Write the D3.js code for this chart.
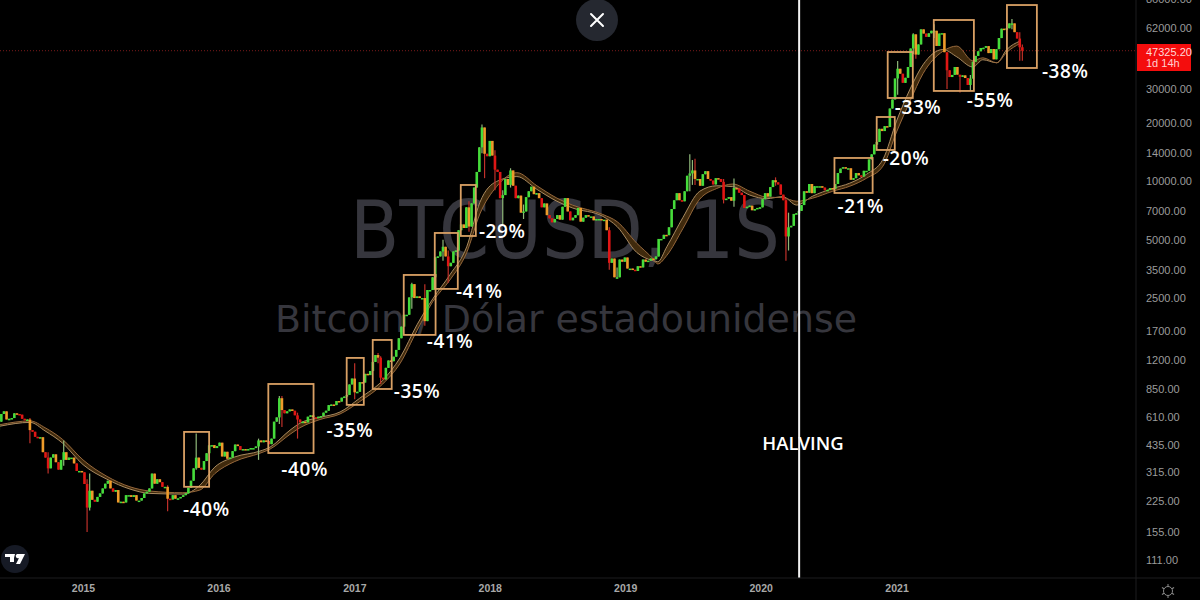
<!DOCTYPE html>
<html><head><meta charset="utf-8">
<style>html,body{margin:0;padding:0;background:#000;overflow:hidden}svg{display:block}</style>
<script src="https://cdn.jsdelivr.net/npm/d3@7"></script></head><body>
<svg id="c" width="1200" height="600"></svg>
<script>
const firstWeek = "2014-05-19";
const firstOpen = 520;
const closes2014 = [575,630,650,590,595,600,635,630,625,595,585,590,520,510,480,475,478,400,375,330,375,390,355,325,365,400,365,375,375,350,320,320,315];
const closes2015 = [274,207,253,227,222,235,245,260,275,285,260,250,255,220,222,220,240,240,235,240,225,225,232,245,250,260,310,275,290,280,265,265,230,228,240,230,231,235,240,245,262,285,330,375,332,325,360,395,434,435,420,430];
const closes2016 = [448,380,402,370,375,405,438,430,410,415,412,415,420,420,428,460,450,460,457,440,470,575,605,760,660,635,650,665,655,620,590,570,575,570,610,620,605,600,610,615,640,655,700,705,700,735,730,765,775,790,895,960];
const closes2017 = [815,820,920,915,1015,1000,1050,1170,1270,1230,970,950,1090,1190,1180,1245,1350,1550,1780,2050,2050,2520,2950,2500,2550,2500,2500,1900,2750,2750,3200,4050,4100,4350,4600,4100,3650,3800,4350,4400,5600,6000,5750,7350,5850,7700,9300,11200,15000,19000,13900,13500];
const closes2018 = [16200,13600,11500,11200,8200,8500,10300,9600,11400,9500,8200,8450,6900,7000,8300,8900,9400,8600,8700,8200,7350,7700,6700,6450,6150,6400,6700,6350,7400,8200,7000,6300,6500,6700,7300,6200,6500,6700,6600,6600,6300,6400,6400,6350,6350,5600,3800,4000,3200,3200,3950,3850,4050];
const closes2019 = [3550,3550,3500,3450,3650,3600,3950,3850,3900,4000,3970,4100,5050,5050,5300,5280,5800,7200,8000,8700,8000,7900,8900,10700,11000,11400,10300,10300,9500,10900,11300,10300,10100,9650,10400,10300,9950,8050,8150,8300,7950,9250,9200,8750,8500,7300,7400,7500,7100,7200,7300,7350];
const closes2020 = [8100,8700,8350,9350,10150,9900,9650,8550,8000,5200,5800,5900,6800,6850,7050,7550,8900,8750,9700,8700,9450,9450,9450,9300,9000,9050,9250,9150,9700,11050,11650,11850,11650,11700,10200,10400,11050,10750,10600,11350,11350,13000,13800,15500,16000,18700,18200,19300,19100,23800,26500,34000];
const closes2021 = [38200,36000,32300,34300,39000,48600,57500,45200,51000,61000,58000,55800,58200,60000,60000,50100,58000,58300,46500,37500,34600,35500,39000,35600,34700,35300,34200,31500,34000,41500,44500,47000,48900,49000,50000,46000,48300,42700,48200,55000,61500,60900,61800,65500,65500,59000,54700,49300,47325];

const wickDates = ["2014-08-11","2014-09-29","2014-11-10","2015-01-12","2015-01-19","2015-08-17","2015-11-02","2016-04-18","2016-06-13","2016-06-20","2016-08-01","2017-01-02","2017-03-06","2017-03-13","2017-06-05","2017-07-10","2017-08-28","2017-09-11","2017-11-06","2017-12-11","2017-12-18","2018-01-15","2018-02-05","2018-02-26","2018-04-02","2018-11-19","2018-12-10","2019-06-24","2019-07-01","2019-07-08","2019-09-23","2019-10-21","2020-02-10","2020-03-09","2020-03-16","2021-01-04","2021-02-15","2021-02-22","2021-04-12","2021-05-17","2021-06-21","2021-07-19","2021-11-08","2021-11-29","2021-12-06"];
const wickHighs = [600,400,460,290,310,270,500,470,780,780,640,1150,1300,1250,3000,2950,5000,4400,7900,19700,19000,14500,9000,11700,7600,5800,3600,13800,12900,13100,10300,10350,10500,8200,6900,41900,58300,57500,64800,46000,35500,35500,69000,59000,51000];
const wickLows = [445,310,340,155,200,198,325,365,560,540,470,750,1150,900,2200,1800,3900,3000,5500,14000,10400,9000,6000,9300,6400,3500,3150,8900,9600,9600,7700,7400,9500,3900,4400,28000,45500,43000,55000,30000,28800,29300,61000,42000,42000];

const maTimes = [2014.388,2014.61,2014.72,2014.85,2015.0,2015.177,2015.347,2015.494,2015.737,2015.863,2015.973,2016.12,2016.305,2016.38,2016.527,2016.6,2016.748,2016.895,2017.04,2017.21,2017.338,2017.463,2017.58,2017.706,2017.83,2017.927,2018.05,2018.2,2018.348,2018.496,2018.61,2018.835,2018.94,2019.085,2019.204,2019.24,2019.307,2019.425,2019.55,2019.676,2019.794,2019.92,2020.044,2020.162,2020.265,2020.383,2020.53,2020.656,2020.78,2020.9,2021.0,2021.1,2021.195,2021.342,2021.445,2021.563,2021.637,2021.74,2021.814,2021.91];
const maFast = [545,570,515,445,345,290,258,245,243,270,335,378,405,425,520,565,605,645,760,940,1230,1820,2480,3300,4600,7800,10000,10600,9100,7900,7300,6600,5850,4300,3900,3850,4600,6500,8900,9500,9400,8500,8150,8350,7550,8400,9200,9800,10900,13000,20500,30000,40000,48000,44000,39000,42500,41000,48000,53000];
const maSlow = [555,580,535,465,365,300,265,252,247,255,310,358,395,415,495,535,590,630,730,900,1150,1700,2400,3100,4300,6800,9400,11100,9500,8200,7550,6750,6200,4800,4000,3750,4150,5700,8100,9200,9700,8900,8300,8250,7900,8200,8900,9450,10400,12000,18000,26000,36000,47000,50000,42000,43500,41000,46500,51500];

const boxYearStart = [2015.746,2016.367,2016.944,2017.136,2017.365,2017.594,2017.786,2020.543,2020.854,2020.935,2021.275,2021.815];
const boxYearEnd = [2015.931,2016.70,2017.07,2017.276,2017.60,2017.764,2017.897,2020.824,2020.987,2021.12,2021.571,2022.036];
const boxPriceTop = [509,900,1227,1519,3290,5420,9590,13220,21520,46600,68190,81470];
const boxPriceBottom = [265,396,702,848,1613,2787,5230,8720,14540,26980,29330,38540];

const dropLabels = ["-40%","-40%","-35%","-35%","-41%","-41%","-29%","-21%","-20%","-33%","-55%","-38%"];
const dropYears = [2015.739,2016.463,2016.796,2017.291,2017.535,2017.75,2017.92,2020.565,2020.898,2020.987,2021.519,2022.073];
const dropPrices = [188,301,479,763,1382,2503,5110,6880,12170,22300,24230,34220];

const halvingYear = 2020.283;
const halvingLabelPrice = 411;
const lastPrice = 47325.20;
const priceTicks = [62000,30000,20000,14000,10000,7000,5000,3500,2500,1700,1200,850,610,435,315,225,155,111];
const yearTicks = [2015,2016,2017,2018,2019,2020,2021];

const svg = d3.select("#c");
const sans = "'Liberation Sans',Arial,sans-serif";
const yearDate = t => { const y = Math.floor(t); const a = Date.UTC(y,0,1), b = Date.UTC(y+1,0,1); return new Date(a+(t-y)*(b-a)); };
const x = d3.scaleUtc().domain([new Date(Date.UTC(2015,0,1)),new Date(Date.UTC(2022,0,1))]).range([83,1032]);
const y = d3.scaleLog().domain([62000,111]).range([28,560]);
const plotR = 1136, plotB = 578;

const defs = svg.append("defs");
defs.append("filter").attr("id","soft").attr("x","-5%").attr("y","-5%").attr("width","110%").attr("height","110%")
  .append("feGaussianBlur").attr("stdDeviation",0.4);

svg.append("rect").attr("width",1200).attr("height",600).attr("fill","#000");

// watermark
svg.append("text").text("BTCUSD, 1S").attr("x",565).attr("y",258).attr("text-anchor","middle")
  .attr("font-family","'DejaVu Sans',sans-serif").attr("font-size",80).attr("fill","#36363d").attr("textLength",430).attr("lengthAdjust","spacingAndGlyphs");
svg.append("text").text("Bitcoin / Dólar estadounidense").attr("x",566).attr("y",332).attr("text-anchor","middle")
  .attr("font-family","'DejaVu Sans',sans-serif").attr("font-size",37).attr("fill","#36363d").attr("textLength",582).attr("lengthAdjust","spacingAndGlyphs");

// last-price line
svg.append("line").attr("x1",0).attr("x2",plotR).attr("y1",y(lastPrice)).attr("y2",y(lastPrice))
  .attr("stroke","#7a1a1a").attr("stroke-width",1).attr("stroke-dasharray","1 2");

// moving-average band
const maRows = maTimes.map((t,i)=>({d:yearDate(t),a:maFast[i],b:maSlow[i]}));
const curve = d3.curveMonotoneX;
const maG = svg.append("g").attr("filter","url(#soft)");
maG.append("path").datum(maRows).attr("fill","#3f2a0e")
  .attr("d",d3.area().x(d=>x(d.d)).y0(d=>y(d.a)).y1(d=>y(d.b)).curve(curve));
[["a","#a98a60"],["b","#96683c"]].forEach(([k,col])=>{
  maG.append("path").datum(maRows).attr("fill","none").attr("stroke",col).attr("stroke-width",1)
    .attr("d",d3.line().x(d=>x(d.d)).y(d=>y(d[k])).curve(curve));
});

// candles
const closes = [].concat(closes2014,closes2015,closes2016,closes2017,closes2018,closes2019,closes2020,closes2021);
const start = new Date(firstWeek+"T00:00:00Z");
const wickMap = new Map(wickDates.map((d,i)=>[d,[wickHighs[i],wickLows[i]]]));
const candles = closes.map((c,i)=>{
  const d = new Date(start.getTime()+7*86400000*i);
  const open = i?closes[i-1]:firstOpen;
  const prevUp = i>1 ? closes[i-1]>=closes[i-2] : true;
  const w = wickMap.get(d.toISOString().slice(0,10));
  return {d,open,close:c,high:w?w[0]:Math.max(open,c),low:w?w[1]:Math.min(open,c),up:c>=open,prevUp};
});
const colour = c => c.up ? "#45dc3a" : (c.prevUp ? "#ee9b2a" : "#e01712");
const gc = svg.append("g").attr("filter","url(#soft)");
gc.selectAll("line").data(candles).join("line")
  .attr("x1",d=>x(d.d)).attr("x2",d=>x(d.d)).attr("y1",d=>y(d.high)).attr("y2",d=>y(d.low))
  .attr("stroke",d=>d.up?"#8fb87a":"#c0302a").attr("stroke-width",1.2);
gc.selectAll("rect").data(candles).join("rect")
  .attr("x",d=>x(d.d)-1.3).attr("width",2.6)
  .attr("y",d=>Math.min(y(d.open),y(d.close)))
  .attr("height",d=>Math.max(1.5,Math.abs(y(d.open)-y(d.close))))
  .attr("fill",colour);

// halving line
svg.append("line").attr("x1",x(yearDate(halvingYear))).attr("x2",x(yearDate(halvingYear))).attr("y1",0).attr("y2",plotB)
  .attr("stroke","#f2f2f2").attr("stroke-width",2);
svg.append("text").text("HALVING").attr("x",803).attr("y",y(halvingLabelPrice)).attr("text-anchor","middle")
  .attr("font-family","'Open Sans',sans-serif").attr("font-weight",600).attr("font-size",18.5).attr("fill","#fff");

// drop boxes
svg.append("g").selectAll("rect").data(boxYearStart).join("rect")
  .attr("x",d=>x(yearDate(d))).attr("y",(d,i)=>y(boxPriceTop[i]))
  .attr("width",(d,i)=>x(yearDate(boxYearEnd[i]))-x(yearDate(d)))
  .attr("height",(d,i)=>y(boxPriceBottom[i])-y(boxPriceTop[i]))
  .attr("fill","none").attr("stroke","#d9a064").attr("stroke-width",1.8);
svg.append("g").selectAll("text").data(dropLabels).join("text").text(d=>d)
  .attr("x",(d,i)=>x(yearDate(dropYears[i]))).attr("y",(d,i)=>y(dropPrices[i]))
  .attr("font-family","'Open Sans',sans-serif").attr("font-weight",600).attr("font-size",19).attr("fill","#fff")
  .attr("textLength",46);

// axes
svg.append("rect").attr("x",plotR).attr("y",0).attr("width",64).attr("height",600).attr("fill","#000");
const ay = d3.axisRight(y).tickValues(priceTicks).tickSize(0).tickPadding(0).tickFormat(d3.format(".2f"));
const gy = svg.append("g").attr("transform",`translate(1146,0)`).call(ay);
gy.select(".domain").remove();
gy.selectAll("text").attr("font-family",sans).attr("font-size",11).attr("fill","#9b9b9b");
svg.append("text").text("86000.00").attr("x",1146).attr("y",y(86000)+3)
  .attr("font-family",sans).attr("font-size",11).attr("fill","#9b9b9b");
const ax = d3.axisBottom(x).tickValues(yearTicks.map(v=>new Date(Date.UTC(v,0,1)))).tickSize(0).tickPadding(7).tickFormat(d3.utcFormat("%Y"));
const gx = svg.append("g").attr("transform",`translate(0,${plotB})`).call(ax);
gx.select(".domain").remove();
gx.selectAll("text").attr("font-family",sans).attr("font-size",10.5).attr("font-weight",700).attr("fill","#a8a8a8");
svg.append("line").attr("x1",0).attr("x2",1200).attr("y1",plotB).attr("y2",plotB).attr("stroke","#1c1c1f");
svg.append("line").attr("x1",plotR).attr("x2",plotR).attr("y1",0).attr("y2",600).attr("stroke","#1c1c1f");

// price tag
svg.append("rect").attr("x",plotR+1).attr("y",44).attr("width",54).attr("height",27).attr("fill","#f40d0d");
svg.append("text").text(d3.format(".2f")(lastPrice)).attr("x",1146).attr("y",56).attr("font-family",sans).attr("font-size",11).attr("fill","#ffd9d9");
svg.append("text").text("1d 14h").attr("x",1146).attr("y",67).attr("font-family",sans).attr("font-size",11).attr("fill","#ffd0d0");

// gear
const gear = svg.append("g").attr("transform","translate(1168,591)").attr("fill","none").attr("stroke","#8a8a8a").attr("stroke-width",1);
gear.append("circle").attr("r",4.5);
d3.range(0,360,60).forEach(a=>gear.append("line").attr("y1",-4.5).attr("y2",-7).attr("transform",`rotate(${a})`));

// close button
const cb = svg.append("g").attr("transform","translate(597,20)");
cb.append("circle").attr("r",21).attr("fill","#252830");
cb.append("path").attr("d","M-6,-6L6,6M6,-6L-6,6").attr("stroke","#fff").attr("stroke-width",2).attr("stroke-linecap","round");

// logo
const lg = svg.append("g").attr("transform","translate(15,559)");
lg.append("circle").attr("r",14).attr("fill","#161a25");
lg.append("path").attr("fill","#fff").attr("d","M-10,-5H-1V3H-5V-2H-10ZM-1,-5H0V-1ZM2,-5H10L5,5H1L4,-1A2.2,2.2 0 1 1 2,-5Z");
</script></body></html>
